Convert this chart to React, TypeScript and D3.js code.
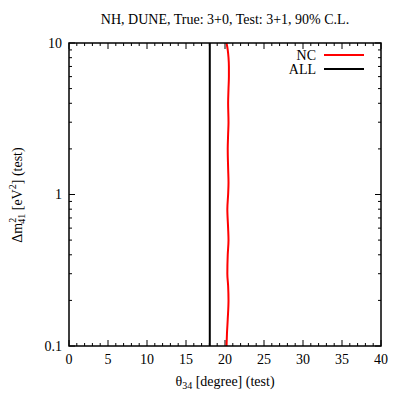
import React from "react";
import * as d3 from "d3";

// contour values
const dmNC = [10, 9, 8, 7, 6, 5, 4, 3, 2.5, 2, 1.5, 1.2, 1, 0.8, 0.6, 0.5, 0.4, 0.3, 0.25, 0.2, 0.15, 0.12, 0.1];
const thNC = [20.2, 20.35, 20.45, 20.5, 20.5, 20.45, 20.4, 20.45, 20.4, 20.35, 20.4, 20.45, 20.4, 20.3, 20.4, 20.45, 20.35, 20.3, 20.4, 20.45, 20.35, 20.25, 20.2];
const dmALL = [10, 0.1];
const thALL = [18.05, 18.05];
const xTicks = [0, 5, 10, 15, 20, 25, 30, 35, 40];
const yTicks = [0.1, 1, 10];
const legendNames = ["NC", "ALL"];
const legendColors = ["#ff0000", "#000000"];

const W = 407;
const H = 407;
const left = 69;
const right = 381;
const top = 43;
const bottom = 346;

const App = () => {
  const ref = React.useRef<SVGSVGElement>(null);

  React.useEffect(() => {
    const svg = d3.select(ref.current);
    svg.selectAll("*").remove();
    const font = "'Times New Roman', 'Liberation Serif', serif";
    const fs = "14px";

    const x = d3.scaleLinear().domain([0, 40]).range([left, right]);
    const y = d3.scaleLog().domain([0.1, 10]).range([bottom, top]);

    const g = svg.append("g");

    // minor + major ticks, all four sides
    const xMinor = d3.range(0, 41, 1);
    xMinor.forEach(v => {
      const len = v % 5 === 0 ? 6 : 3;
      g.append("line").attr("x1", x(v)).attr("x2", x(v)).attr("y1", bottom).attr("y2", bottom - len).attr("stroke", "#000");
      g.append("line").attr("x1", x(v)).attr("x2", x(v)).attr("y1", top).attr("y2", top + len).attr("stroke", "#000");
    });
    const yMinor: number[] = [];
    [0.1, 1].forEach(d => d3.range(1, 10).forEach(k => yMinor.push(d * k)));
    yMinor.push(10);
    yMinor.forEach(v => {
      const major = yTicks.some(t => Math.abs(t - v) < 1e-9);
      const len = major ? 6 : 3;
      g.append("line").attr("x1", left).attr("x2", left + len).attr("y1", y(v)).attr("y2", y(v)).attr("stroke", "#000");
      g.append("line").attr("x1", right).attr("x2", right - len).attr("y1", y(v)).attr("y2", y(v)).attr("stroke", "#000");
    });

    g.selectAll(".xl")
      .data(xTicks)
      .enter()
      .append("text")
      .attr("x", d => x(d))
      .attr("y", 364)
      .attr("text-anchor", "middle")
      .style("font-family", font)
      .style("font-size", fs)
      .text(d => d);

    g.selectAll(".yl")
      .data(yTicks)
      .enter()
      .append("text")
      .attr("x", 62)
      .attr("y", d => y(d) + 4.5)
      .attr("text-anchor", "end")
      .style("font-family", font)
      .style("font-size", fs)
      .text(d => String(d));

    const line = d3
      .line<[number, number]>()
      .x(d => x(d[0]))
      .y(d => y(d[1]))
      .curve(d3.curveMonotoneY);

    g.append("path")
      .datum(thALL.map((t, i) => [t, dmALL[i]] as [number, number]))
      .attr("d", line)
      .attr("fill", "none")
      .attr("stroke", "#000")
      .attr("stroke-width", 2);

    g.append("path")
      .datum(thNC.map((t, i) => [t, dmNC[i]] as [number, number]))
      .attr("d", line)
      .attr("fill", "none")
      .attr("stroke", "#ff0000")
      .attr("stroke-width", 2);

    g.append("rect")
      .attr("x", left)
      .attr("y", top)
      .attr("width", right - left)
      .attr("height", bottom - top)
      .attr("fill", "none")
      .attr("stroke", "#000")
      .attr("stroke-width", 1.5);

    // legend
    legendNames.forEach((name, i) => {
      const ly = 55 + i * 14;
      g.append("text")
        .attr("x", 316)
        .attr("y", ly + 5)
        .attr("text-anchor", "end")
        .style("font-family", font)
        .style("font-size", fs)
        .text(name);
      g.append("line")
        .attr("x1", 324)
        .attr("x2", 364)
        .attr("y1", ly)
        .attr("y2", ly)
        .attr("stroke", legendColors[i])
        .attr("stroke-width", 2);
    });

    // title
    g.append("text")
      .attr("x", 225)
      .attr("y", 24)
      .attr("text-anchor", "middle")
      .style("font-family", font)
      .style("font-size", fs)
      .text("NH, DUNE, True: 3+0, Test: 3+1, 90% C.L.");

    // x label
    const xl = g.append("text")
      .attr("x", 225)
      .attr("y", 386)
      .attr("text-anchor", "middle")
      .style("font-family", font)
      .style("font-size", fs);
    xl.append("tspan").text("θ");
    xl.append("tspan").attr("dy", 3).style("font-size", "10px").text("34");
    xl.append("tspan").attr("dy", -3).text(" [degree] (test)");

    // y label
    const yl = g.append("text")
      .attr("transform", "translate(22,195) rotate(-90)")
      .attr("text-anchor", "middle")
      .style("font-family", font)
      .style("font-size", fs);
    yl.append("tspan").text("Δm");
    yl.append("tspan").attr("dy", -6).style("font-size", "10px").text("2");
    yl.append("tspan").attr("dx", -6).attr("dy", 9).style("font-size", "10px").text("41");
    yl.append("tspan").attr("dy", -3).text(" [eV");
    yl.append("tspan").attr("dy", -6).style("font-size", "10px").text("2");
    yl.append("tspan").attr("dy", 6).text("] (test)");
  }, []);

  return (
    <div style={{ position: "absolute", left: 0, top: 0 }}>
      <svg width={W} height={H} ref={ref} style={{ background: "#fff", display: "block" }} />
    </div>
  );
};

export default App;
